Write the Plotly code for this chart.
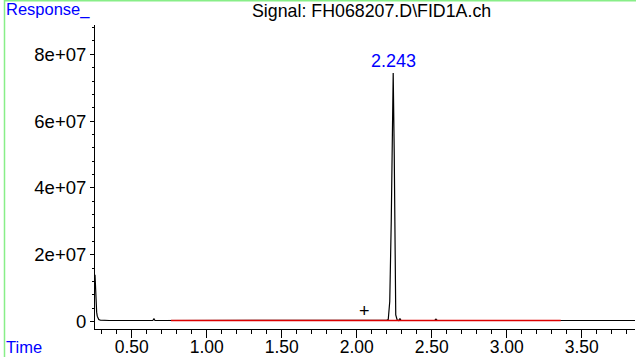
import plotly.graph_objects as go

# Chromatogram trace (time in min, response)
time_min = [0.255, 0.258, 0.262, 0.266, 0.27, 0.275, 0.28, 0.29, 0.30, 0.35, 0.45, 0.55,
            0.64, 0.648, 0.655, 0.67, 0.8, 1.0, 1.3, 1.6, 1.9, 2.1, 2.19, 2.20, 2.21,
            2.22, 2.23, 2.237, 2.243, 2.25, 2.255, 2.26, 2.27, 2.28, 2.288, 2.295, 2.31,
            2.4, 2.52, 2.528, 2.536, 2.6, 2.9, 3.2, 3.5, 3.7, 3.855]
response = [1.4e7, 9.0e6, 5.0e6, 2.8e6, 1.6e6, 9.0e5, 6.0e5, 4.0e5, 3.5e5, 3.0e5, 3.0e5, 3.0e5,
            3.0e5, 8.0e5, 3.0e5, 3.0e5, 3.0e5, 3.0e5, 3.0e5, 3.0e5, 3.0e5, 3.0e5, 3.0e5, 3.5e5, 6.0e5,
            6.0e6, 3.0e7, 6.2e7, 7.44e7, 5.0e7, 1.5e7, 2.0e6, 4.0e5, 3.0e5, 9.0e5, 3.0e5, 3.0e5,
            3.0e5, 3.0e5, 7.0e5, 3.0e5, 3.0e5, 3.0e5, 3.0e5, 3.0e5, 3.0e5, 3.0e5]

# Integration baseline (red)
baseline_time = [0.762, 3.36]
baseline_resp = [3.0e5, 3.0e5]

# Peak label and marker
peak_time = 2.243
peak_resp = 7.44e7
peak_label = "2.243"
marker_time = 2.05
marker_resp = 3.1e6

# Axis ticks
y_tickvals = [0, 2e7, 4e7, 6e7, 8e7]
y_ticktext = ["0", "2e+07", "4e+07", "6e+07", "8e+07"]

title_text = "Signal: FH068207.D\\FID1A.ch"

FONT = "Liberation Sans, Arial, sans-serif"

fig = go.Figure()
fig.add_trace(go.Scatter(x=time_min, y=response, mode="lines",
                         line=dict(color="black", width=1.2), hoverinfo="skip"))
fig.add_trace(go.Scatter(x=baseline_time, y=baseline_resp, mode="lines",
                         line=dict(color="#dd0000", width=1.5), hoverinfo="skip"))

fig.add_annotation(x=peak_time, y=peak_resp, text=peak_label, showarrow=False,
                   yanchor="bottom", yshift=0, font=dict(color="#0000ff", size=18, family=FONT))
fig.add_annotation(x=marker_time, y=marker_resp, text="+", showarrow=False,
                   font=dict(color="black", size=18, family=FONT))

fig.add_annotation(xref="paper", yref="paper", x=(4 - 95) / 540, y=1 + (25 - 10) / 304,
                   text="Response_", showarrow=False, xanchor="left", yanchor="middle",
                   font=dict(color="#0000ff", size=16.5, family=FONT))
fig.add_annotation(xref="paper", yref="paper", x=(4 - 95) / 540, y=-(347 - 329) / 304,
                   text="Time", showarrow=False, xanchor="left", yanchor="middle",
                   font=dict(color="#0000ff", size=16.5, family=FONT))
fig.add_annotation(xref="paper", yref="paper", x=(371 - 95) / 540, y=1 + (25 - 11) / 304,
                   text=title_text, showarrow=False, xanchor="center", yanchor="middle",
                   font=dict(color="black", size=17.8, family=FONT))

# green frame (left and top)
fig.add_shape(type="line", xref="paper", yref="paper",
              x0=(4.5 - 95) / 540, x1=(4.5 - 95) / 540, y0=-(357 - 329) / 304, y1=1 + 25 / 304,
              line=dict(color="#88ee88", width=1.5))
fig.add_shape(type="line", xref="paper", yref="paper",
              x0=(4.5 - 95) / 540, x1=1 + 1 / 540, y0=1 + (25 - 0.7) / 304, y1=1 + (25 - 0.7) / 304,
              line=dict(color="#88ee88", width=1.5))

fig.update_layout(
    width=636, height=357,
    margin=dict(l=95, r=1, t=25, b=28, autoexpand=False),
    paper_bgcolor="white", plot_bgcolor="white",
    showlegend=False,
    font=dict(family=FONT, size=17, color="black"),
    xaxis=dict(range=[0.255, 3.855], showgrid=False, zeroline=False,
               showline=True, linecolor="black", linewidth=1,
               ticks="outside", ticklen=8, tickcolor="black", tickwidth=1,
               tick0=0.5, dtick=0.5, tickformat=".2f", automargin=False,
               ticklabelstandoff=-6,
               tickfont=dict(size=17.5, family=FONT, color="black"),
               minor=dict(dtick=0.1, tick0=0.5, ticklen=4, ticks="outside", tickcolor="black")),
    yaxis=dict(range=[-2.25e6, 8.877e7], showgrid=False, zeroline=False,
               showline=True, linecolor="black", linewidth=1,
               ticks="outside", ticklen=4, tickcolor="black", tickwidth=1,
               tickmode="array", tickvals=y_tickvals, ticktext=y_ticktext, automargin=False,
               tickfont=dict(size=18.5, family=FONT, color="black"),
               minor=dict(tickmode="linear", dtick=4e6, tick0=0, ticklen=2, ticks="outside", tickcolor="black")),
)

fig.write_html("out.html", config={"displayModeBar": False},
               post_script="document.body.style.margin='0';document.body.style.overflow='hidden';")
